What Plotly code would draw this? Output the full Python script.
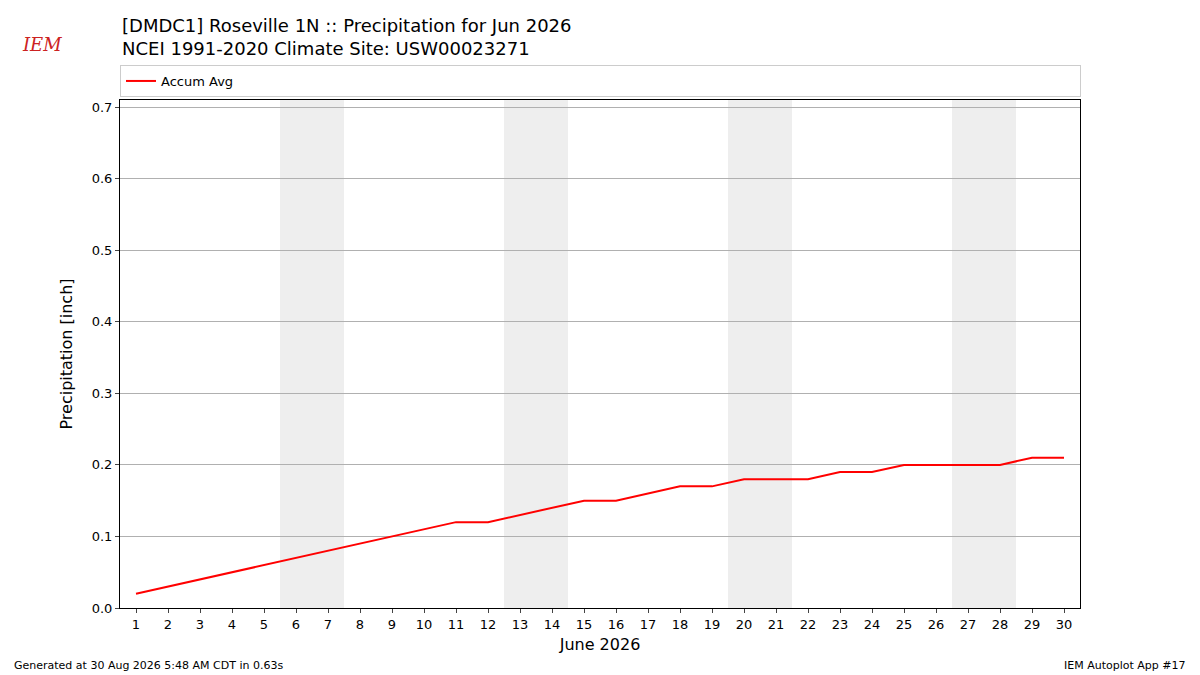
import plotly.graph_objects as go

days = list(range(1, 31))
accum_avg = [0.02, 0.03, 0.04, 0.05, 0.06, 0.07, 0.08, 0.09, 0.10, 0.11,
             0.12, 0.12, 0.13, 0.14, 0.15, 0.15, 0.16, 0.17, 0.17, 0.18,
             0.18, 0.18, 0.19, 0.19, 0.20, 0.20, 0.20, 0.20, 0.21, 0.21]
weekend_starts = [6, 13, 20, 27]

# page has an 8px body margin, so size the figure to fit inside it
W, H = 1184, 667
L, T, PW, PH = 112, 92, 960, 508


def px(x):
    return (x - 8 - L) / PW


def py(y):
    return 1 - (y - 8 - T) / PH


fig = go.Figure()
fig.add_trace(go.Scatter(x=days, y=accum_avg, mode="lines", name="Accum Avg",
                         line=dict(color="red", width=2)))

for d in weekend_starts:
    fig.add_vrect(x0=d - 0.5, x1=d + 1.5, fillcolor="#eeeeee", line_width=0, layer="below")

fig.update_layout(
    width=W, height=H,
    margin=dict(l=L, r=W - L - PW, t=T, b=H - T - PH),
    paper_bgcolor="white", plot_bgcolor="white",
    font=dict(family="DejaVu Sans", size=13, color="black"),
    showlegend=True,
    legend=dict(x=0, y=py(97), xanchor="left", yanchor="bottom", orientation="h",
                bordercolor="#cccccc", borderwidth=1, font=dict(size=13),
                entrywidth=914, tracegroupgap=0, valign="middle"),
    xaxis=dict(range=[0.5, 30.5], tickmode="array", tickvals=days,
               ticks="outside", ticklen=4, showgrid=False, showline=True,
               linecolor="black", mirror=True,
               title=dict(text="June 2026", font=dict(size=16), standoff=8)),
    yaxis=dict(range=[0, 0.71], dtick=0.1, tickformat=".1f", ticks="outside",
               ticklen=4, showgrid=True, gridcolor="#b0b0b0", showline=True,
               linecolor="black", mirror=True, zeroline=False,
               title=dict(text="Precipitation [inch]", font=dict(size=16))),
)

fig.add_annotation(text="[DMDC1] Roseville 1N :: Precipitation for Jun 2026<br>NCEI 1991-2020 Climate Site: USW00023271",
                   xref="paper", yref="paper", x=0, y=py(13), xanchor="left", yanchor="top",
                   align="left", showarrow=False, font=dict(size=18))
fig.add_annotation(text="<i>IEM</i>", xref="paper", yref="paper",
                   x=px(20), y=py(45), xanchor="left", yanchor="middle",
                   showarrow=False, font=dict(size=18, color="#cc2222", family="DejaVu Serif"))
fig.add_annotation(text="Generated at 30 Aug 2026 5:48 AM CDT in 0.63s", xref="paper", yref="paper",
                   x=px(12), y=py(665), xanchor="left", yanchor="middle",
                   showarrow=False, font=dict(size=11))
fig.add_annotation(text="IEM Autoplot App #17", xref="paper", yref="paper",
                   x=px(1188), y=py(665), xanchor="right", yanchor="middle",
                   showarrow=False, font=dict(size=11))

fig.write_html("out.html")
